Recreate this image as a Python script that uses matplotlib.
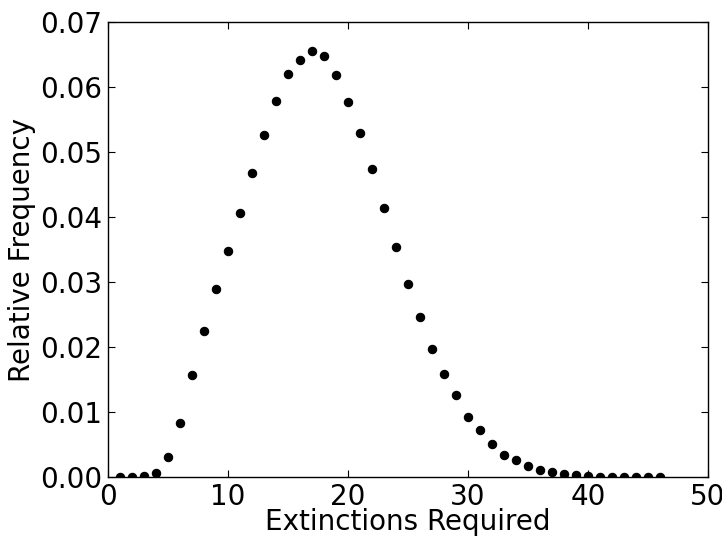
import matplotlib
matplotlib.use("Agg")
import matplotlib.pyplot as plt

# extinctions required (x) and relative frequency (y)
extinctions = list(range(1, 47))
rel_freq = [
    0.00005, 0.0001, 0.0002, 0.0007, 0.0031, 0.0084, 0.0157, 0.0225, 0.0289, 0.0348,
    0.0406, 0.0468, 0.0526, 0.0579, 0.0620, 0.0642, 0.0655, 0.0648, 0.0619, 0.0578,
    0.0530, 0.0474, 0.0415, 0.0354, 0.0297, 0.0246, 0.0197, 0.0159, 0.0126, 0.0093,
    0.0073, 0.0051, 0.0035, 0.0026, 0.0018, 0.0011, 0.0008, 0.0005, 0.0004, 0.0002,
    0.0001, 0.0001, 0.00005, 0.00005, 0.00003, 0.00002,
]

fig = plt.figure(figsize=(7.22, 5.36), dpi=100)
ax = fig.add_axes([0.1496, 0.1095, 0.831, 0.849])
ax.plot(extinctions, rel_freq, "o", color="black", markersize=6, markeredgewidth=0.8)
ax.set_xlim(0, 50)
ax.set_ylim(0, 0.07)
ax.set_xticks([0, 10, 20, 30, 40, 50])
ax.set_yticks([0.0, 0.01, 0.02, 0.03, 0.04, 0.05, 0.06, 0.07])
ax.set_yticklabels([f"{v:.2f}" for v in ax.get_yticks()])
ax.tick_params(direction="in", top=True, right=True, length=5, labelsize=20, pad=4)
for sp in ax.spines.values():
    sp.set_linewidth(1.0)
ax.set_xlabel("Extinctions Required", fontsize=20, labelpad=-2)
ax.set_ylabel("Relative Frequency", fontsize=20, labelpad=3)
fig.savefig("out.png", dpi=100, facecolor="white")
